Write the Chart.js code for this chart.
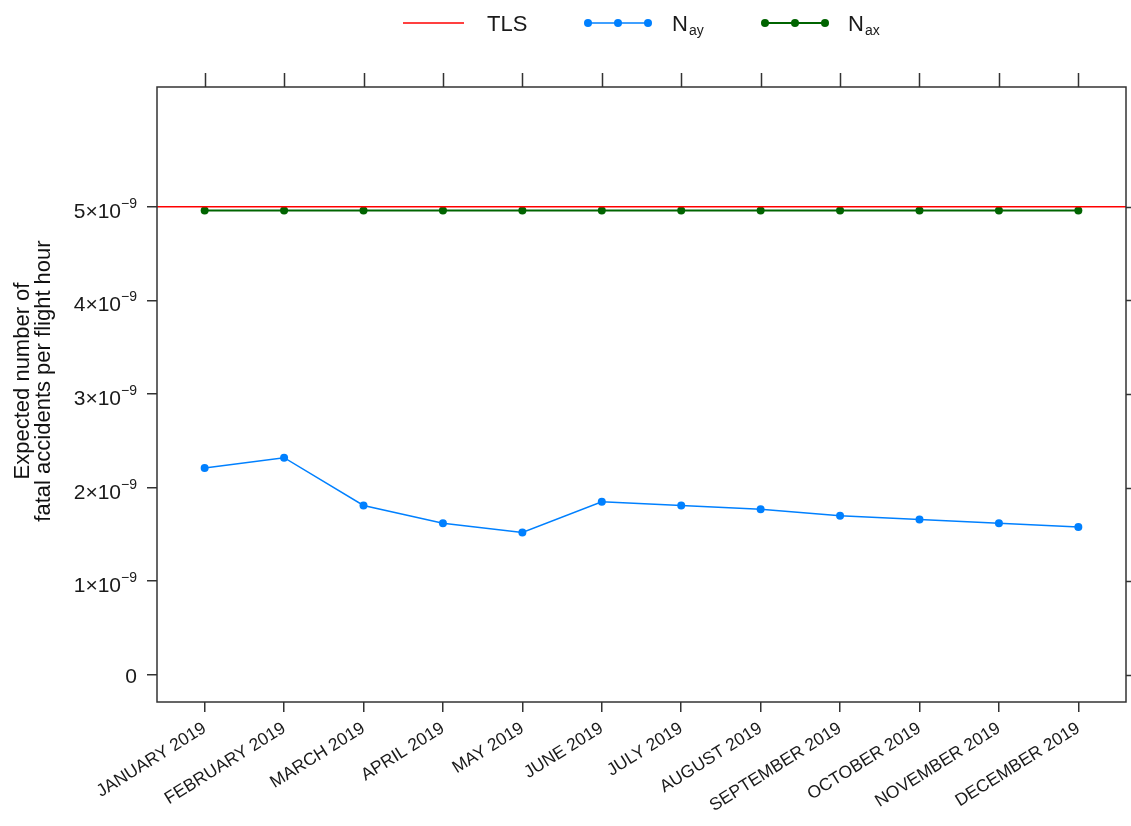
<!DOCTYPE html>
<html>
<head>
<meta charset="utf-8">
<script src="https://cdn.jsdelivr.net/npm/chart.js@4.4.0/dist/chart.umd.min.js"></script>
<style>
  html, body { margin: 0; padding: 0; background: #fff; }
  #wrap { width: 1131px; height: 826px; }
</style>
</head>
<body>
<div id="wrap"><canvas id="chart"></canvas></div>
<script>
// data
const months = ["JANUARY 2019", "FEBRUARY 2019", "MARCH 2019", "APRIL 2019", "MAY 2019", "JUNE 2019",
  "JULY 2019", "AUGUST 2019", "SEPTEMBER 2019", "OCTOBER 2019", "NOVEMBER 2019", "DECEMBER 2019"];
const nAy = [2.21e-9, 2.32e-9, 1.81e-9, 1.62e-9, 1.52e-9, 1.85e-9, 1.81e-9, 1.77e-9, 1.70e-9, 1.66e-9, 1.62e-9, 1.58e-9];
const nAx = [4.96e-9, 4.96e-9, 4.96e-9, 4.96e-9, 4.96e-9, 4.96e-9, 4.96e-9, 4.96e-9, 4.96e-9, 4.96e-9, 4.96e-9, 4.96e-9];
const TLS = 5e-9;
const yTicks = [0, 1e-9, 2e-9, 3e-9, 4e-9, 5e-9];
const yTitle = ['Expected number of', 'fatal accidents per flight hour'];

const X_MIN = -0.6, X_MAX = months.length - 1 + 0.6;
const Y_MIN = -0.29e-9, Y_MAX = 6.28e-9;

const FONT = "'Liberation Sans', Arial, sans-serif";
const AXIS = '#333';
const TEXT = '#1a1a1a';

// frame, ticks on top / right, y tick labels with superscript, y title
const framePlugin = {
  id: 'frame',
  afterDraw(chart) {
    const { ctx, chartArea: a, scales } = chart;
    ctx.save();
    ctx.strokeStyle = AXIS;
    ctx.lineWidth = 1.5;
    ctx.strokeRect(a.left, a.top, a.right - a.left, a.bottom - a.top);
    ctx.beginPath();
    months.forEach((m, i) => {
      const x = Math.round(scales.x.getPixelForValue(i)) + 0.5;
      ctx.moveTo(x, a.top);
      ctx.lineTo(x, a.top - 14);
    });
    yTicks.forEach(v => {
      const y = Math.round(scales.y.getPixelForValue(v)) + 0.5;
      ctx.moveTo(a.right, y);
      ctx.lineTo(a.right + 10, y);
    });
    ctx.stroke();

    // y tick labels  n×10^-9
    ctx.fillStyle = TEXT;
    ctx.textAlign = 'right';
    ctx.textBaseline = 'alphabetic';
    const right = a.left - 20;
    yTicks.forEach(v => {
      const y = scales.y.getPixelForValue(v);
      const n = Math.round(v / 1e-9);
      if (n === 0) {
        ctx.font = '21px ' + FONT;
        ctx.fillText('0', right, y + 8);
        return;
      }
      ctx.font = '14px ' + FONT;
      const sup = '\u22129';
      const sw = ctx.measureText(sup).width;
      ctx.fillText(sup, right, y + 1);
      ctx.font = '21px ' + FONT;
      ctx.fillText(n + '\u00d710', right - sw, y + 11);
    });

    // y title
    ctx.save();
    ctx.translate(0, 381);
    ctx.rotate(-Math.PI / 2);
    ctx.textAlign = 'center';
    ctx.textBaseline = 'middle';
    ctx.font = '22px ' + FONT;
    ctx.fillStyle = '#111';
    ctx.fillText(yTitle[0], 0, 23);
    ctx.fillText(yTitle[1], 0, 44);
    ctx.restore();
    ctx.restore();
  }
};

// legend at the top, with subscripts
const legendPlugin = {
  id: 'topLegend',
  afterDraw(chart) {
    const ctx = chart.ctx;
    const y = 23;
    ctx.save();
    ctx.textBaseline = 'alphabetic';
    ctx.fillStyle = TEXT;

    ctx.strokeStyle = '#ff0000';
    ctx.lineWidth = 1.5;
    ctx.beginPath(); ctx.moveTo(403, y); ctx.lineTo(464, y); ctx.stroke();
    ctx.font = '22px ' + FONT;
    ctx.fillText('TLS', 487, 31);

    const items = [
      { x0: 588, col: '#0080ff', sub: 'ay', tx: 672, lw: 1.5 },
      { x0: 765, col: '#006400', sub: 'ax', tx: 848, lw: 2 }
    ];
    items.forEach(it => {
      ctx.strokeStyle = it.col;
      ctx.lineWidth = it.lw;
      ctx.beginPath(); ctx.moveTo(it.x0, y); ctx.lineTo(it.x0 + 60, y); ctx.stroke();
      ctx.fillStyle = it.col;
      [0, 30, 60].forEach(dx => {
        ctx.beginPath(); ctx.arc(it.x0 + dx, y, 4, 0, Math.PI * 2); ctx.fill();
      });
      ctx.fillStyle = TEXT;
      ctx.font = '22px ' + FONT;
      ctx.fillText('N', it.tx, 31);
      const w = ctx.measureText('N').width;
      ctx.font = '14px ' + FONT;
      ctx.fillText(it.sub, it.tx + w + 1, 35);
    });
    ctx.restore();
  }
};

new Chart(document.getElementById('chart'), {
  type: 'line',
  data: {
    datasets: [
      {
        label: 'TLS',
        data: [{ x: X_MIN, y: TLS }, { x: X_MAX, y: TLS }],
        borderColor: '#ff0000',
        borderWidth: 1.5,
        pointRadius: 0
      },
      {
        label: 'N_ay',
        data: nAy.map((v, i) => ({ x: i, y: v })),
        borderColor: '#0080ff',
        backgroundColor: '#0080ff',
        borderWidth: 1.5,
        pointRadius: 4,
        pointBorderWidth: 0
      },
      {
        label: 'N_ax',
        data: nAx.map((v, i) => ({ x: i, y: v })),
        borderColor: '#006400',
        backgroundColor: '#006400',
        borderWidth: 2,
        pointRadius: 4,
        pointBorderWidth: 0
      }
    ]
  },
  options: {
    responsive: true,
    maintainAspectRatio: false,
    animation: false,
    layout: { padding: { top: 87, right: 5, left: 0, bottom: 0 } },
    plugins: { legend: { display: false }, tooltip: { enabled: false } },
    scales: {
      x: {
        type: 'linear',
        min: X_MIN,
        max: X_MAX,
        afterBuildTicks: s => { s.ticks = months.map((m, i) => ({ value: i })); },
        afterFit: s => { s.height = 124; },
        grid: { drawOnChartArea: false, drawTicks: true, tickLength: 10, color: AXIS, lineWidth: 1.5 },
        border: { display: false },
        ticks: {
          autoSkip: false,
          minRotation: 32,
          maxRotation: 32,
          padding: 6,
          color: TEXT,
          font: { family: FONT, size: 17.5 },
          callback: v => months[v]
        }
      },
      y: {
        min: Y_MIN,
        max: Y_MAX,
        afterBuildTicks: s => { s.ticks = yTicks.map(v => ({ value: v })); },
        afterFit: s => { s.width = 157; },
        grid: { drawOnChartArea: false, drawTicks: true, tickLength: 10, color: AXIS, lineWidth: 1.5 },
        border: { display: false },
        ticks: { display: false }
      }
    }
  },
  plugins: [framePlugin, legendPlugin]
});
</script>
</body>
</html>
